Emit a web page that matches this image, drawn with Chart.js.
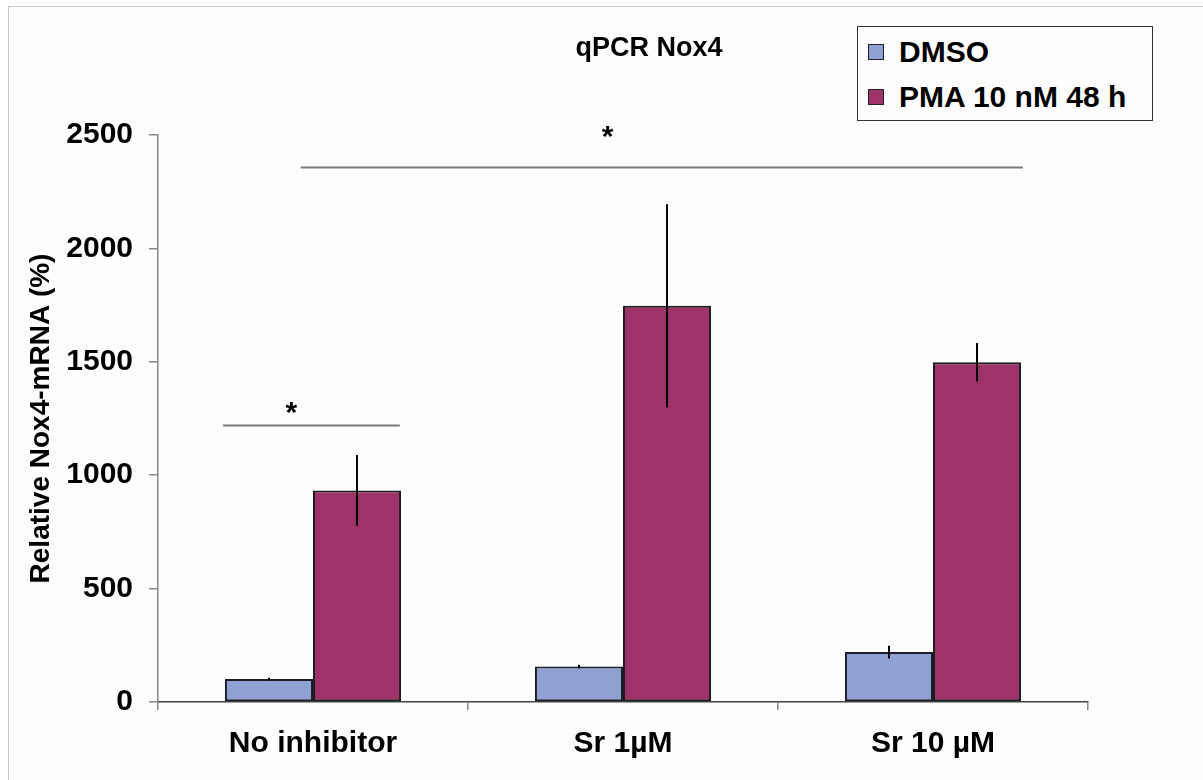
<!DOCTYPE html>
<html>
<head>
<meta charset="utf-8">
<script src="https://cdn.jsdelivr.net/npm/chart.js@4"></script>
<style>
  body { margin: 0; background: #fff; font-family: 'Liberation Sans', Arial, sans-serif; }
  #wrap { position: relative; width: 1203px; height: 780px; overflow: hidden; }
  #frame { position: absolute; left: 8px; top: 6px; right: 0; bottom: 0; background: #fdfdfd;
           border-top: 1px solid #c8c8c8; border-left: 1px solid #c8c8c8; }
  canvas { position: absolute; left: 0; top: 0; }
  #title { position: absolute; left: 560px; width: 178px; top: 34px; text-align: center;
           font-weight: bold; font-size: 27px; line-height: 1; color: #000; }
  #legend { position: absolute; left: 857px; top: 26px; width: 296px; height: 95px; box-sizing: border-box;
            border: 1px solid #333; background: #fdfdfd; }
  .item { position: absolute; left: 10px; height: 40px; display: flex; align-items: center;
          font-weight: bold; font-size: 30px; color: #000; white-space: nowrap; }
  .swatch { width: 14px; height: 14px; border: 1px solid #222; margin-right: 15px; }
</style>
</head>
<body>
<div id="wrap">
  <div id="frame"></div>
  <canvas id="chart" width="1203" height="780"></canvas>
  <div id="title">qPCR Nox4</div>
  <div id="legend"></div>
</div>
<script>
// values
const categories = ['No inhibitor', 'Sr 1µM', 'Sr 10 µM'];
const seriesNames = ['DMSO', 'PMA 10 nM 48 h'];
const seriesColors = ['#8fa1d3', '#9e3369'];
const dmsoValues = [101, 156, 220];
const dmsoErrors = [6, 8, 28];
const pmaValues = [933, 1747, 1498];
const pmaErrors = [156, 448, 85];

// significance brackets (category units on x, value units on y)
const sigFrom = [-0.29, -0.04];
const sigTo = [0.28, 2.29];
const sigLevel = [1220, 2360];
const starX = [-0.07, 0.95];
const starLevel = [1310, 2525];

const fontFamily = "'Liberation Sans', Arial, sans-serif";

// legend built from the series arrays
const legend = document.getElementById('legend');
seriesNames.forEach((name, i) => {
  const row = document.createElement('div');
  row.className = 'item';
  row.style.top = (i === 0 ? 5 : 50) + 'px';
  row.innerHTML = '<div class="swatch" style="background:' + seriesColors[i] + '"></div>' + name;
  legend.appendChild(row);
});

const errorAndSigPlugin = {
  id: 'errorAndSig',
  afterDatasetsDraw(chart) {
    const ctx = chart.ctx;
    const x = chart.scales.x;
    const y = chart.scales.y;
    ctx.save();

    // error bars
    ctx.strokeStyle = '#000';
    ctx.lineWidth = 2;
    [dmsoErrors, pmaErrors].forEach((errs, i) => {
      const meta = chart.getDatasetMeta(i);
      const vals = chart.data.datasets[i].data;
      meta.data.forEach((bar, j) => {
        ctx.beginPath();
        ctx.moveTo(bar.x, y.getPixelForValue(vals[j] + errs[j]));
        ctx.lineTo(bar.x, y.getPixelForValue(vals[j] - errs[j]));
        ctx.stroke();
      });
    });

    // significance lines + stars
    ctx.strokeStyle = '#7a7a7a';
    ctx.lineWidth = 2;
    for (let k = 0; k < sigFrom.length; k++) {
      const py = Math.round(y.getPixelForValue(sigLevel[k])) + 0.5;
      ctx.beginPath();
      ctx.moveTo(x.getPixelForValue(sigFrom[k]), py);
      ctx.lineTo(x.getPixelForValue(sigTo[k]), py);
      ctx.stroke();
    }
    ctx.fillStyle = '#000';
    ctx.font = 'bold 30px ' + fontFamily;
    ctx.textAlign = 'center';
    ctx.textBaseline = 'alphabetic';
    for (let k = 0; k < starX.length; k++) {
      ctx.fillText('*', x.getPixelForValue(starX[k]), y.getPixelForValue(starLevel[k]) + 17);
    }
    ctx.restore();
  }
};

new Chart(document.getElementById('chart'), {
  type: 'bar',
  data: {
    labels: categories,
    datasets: [
      {
        label: seriesNames[0],
        data: dmsoValues,
        backgroundColor: seriesColors[0],
        borderColor: '#1c1c28',
        borderWidth: 2,
        borderSkipped: false
      },
      {
        label: seriesNames[1],
        data: pmaValues,
        backgroundColor: seriesColors[1],
        borderColor: '#1c1c1c',
        borderWidth: 2,
        borderSkipped: false
      }
    ]
  },
  options: {
    responsive: false,
    animation: false,
    events: [],
    layout: { padding: { left: 0, top: 135, right: 115, bottom: 0 } },
    datasets: { bar: { barPercentage: 1, categoryPercentage: 0.568 } },
    plugins: {
      legend: { display: false },
      title: { display: false },
      tooltip: { enabled: false }
    },
    scales: {
      x: {
        afterFit(scale) { scale.height = 78; },
        grid: { display: true, offset: true, drawOnChartArea: false, drawTicks: true, tickLength: 8, color: '#888', lineWidth: 1.5 },
        border: { display: true, color: '#444', width: 1.5 },
        ticks: { color: '#000', padding: 16, font: { family: fontFamily, size: 30, weight: 'bold' }, maxRotation: 0 }
      },
      y: {
        min: 0,
        max: 2500,
        afterFit(scale) { scale.width = 158; },
        grid: { display: true, drawOnChartArea: false, drawTicks: true, tickLength: 9, color: '#888', lineWidth: 1.5 },
        border: { display: true, color: '#888', width: 1.5 },
        ticks: {
          stepSize: 500,
          color: '#000',
          padding: 16,
          font: { family: fontFamily, size: 30, weight: 'bold' },
          callback: (v) => String(v)
        },
        title: {
          display: true,
          text: 'Relative Nox4-mRNA (%)',
          color: '#000',
          padding: { top: 24, bottom: 0 },
          font: { family: fontFamily, size: 28, weight: 'bold' }
        }
      }
    }
  },
  plugins: [errorAndSigPlugin]
});
</script>
</body>
</html>
